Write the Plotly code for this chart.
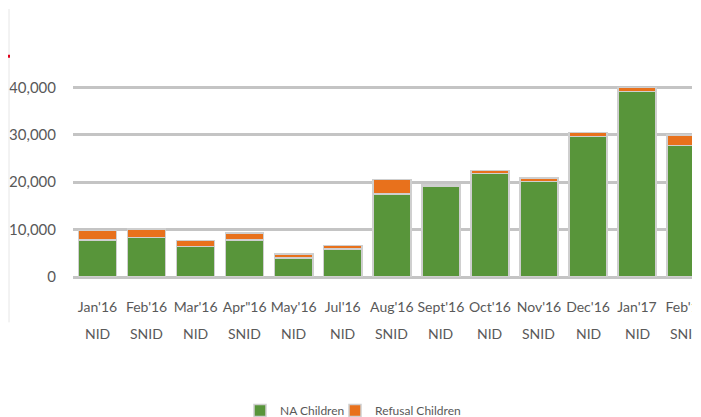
import plotly.graph_objects as go

months = ["Jan'16", "Feb'16", "Mar'16", "Apr\"16", "May'16", "Jul'16", "Aug'16",
          "Sept'16", "Oct'16", "Nov'16", "Dec'16", "Jan'17", "Feb'17"]
rounds = ["NID", "SNID", "NID", "SNID", "NID", "NID", "SNID",
          "NID", "NID", "SNID", "NID", "NID", "SNID"]
na_children = [7800, 8300, 6400, 7800, 4000, 5900, 17500,
               19100, 21800, 20200, 29700, 39200, 27800]
refusal_children = [2000, 1850, 1300, 1500, 900, 800, 3100,
                    300, 700, 700, 750, 800, 2200]

FONT = "Lato, Roboto, sans-serif"
GREY = "#595959"

# the figure shows up 8px in from the left edge of the page
OFF_X, OFF_Y = 8, 2
W, H = 684, 417
ML, MT, MB = 65, 70, 145
PH = H - MT - MB


def px_x(x):
    # page pixel -> paper x
    return (x - OFF_X - ML) / (W - ML)


def px_y(y):
    # page pixel -> paper y
    return (H - MB - (y - OFF_Y)) / PH


fig = go.Figure()
fig.add_trace(go.Bar(
    x=months, y=na_children, name="NA Children", legend="legend",
    marker=dict(color="#58953a", line=dict(color="#cfcfcf", width=1.5)),
))
fig.add_trace(go.Bar(
    x=months, y=refusal_children, name="Refusal Children", legend="legend2",
    marker=dict(color="#e8711c", line=dict(color="#cfcfcf", width=1.5)),
))

for m, r in zip(months, rounds):
    fig.add_annotation(
        x=m, y=0, xref="x", yref="paper", yanchor="middle", yshift=-56,
        text=r, showarrow=False, font=dict(family=FONT, size=14, color=GREY),
    )

# cropped neighbouring panel on the left edge
fig.add_shape(type="line", xref="paper", yref="paper",
              x0=px_x(9), x1=px_x(9), y0=px_y(2), y1=px_y(320),
              line=dict(color="#e6e6e6", width=1))
fig.add_shape(type="line", xref="paper", yref="paper",
              x0=px_x(8), x1=px_x(10), y0=px_y(50), y1=px_y(50),
              line=dict(color="#e0001a", width=3))

legend_style = dict(
    orientation="h", xanchor="left", y=px_y(410), yanchor="middle",
    font=dict(family=FONT, size=12, color=GREY), bgcolor="rgba(0,0,0,0)",
)

fig.update_layout(
    width=W, height=H,
    barmode="stack", bargap=0.224,
    margin=dict(l=ML, r=0, t=MT, b=MB),
    plot_bgcolor="white", paper_bgcolor="white",
    font=dict(family=FONT, color=GREY),
    xaxis=dict(
        range=[-0.5, 12.12], showgrid=False, zeroline=False, showline=False,
        tickangle=0, automargin=False,
        tickfont=dict(family=FONT, size=14, color=GREY),
        ticklabelstandoff=20,
    ),
    yaxis=dict(
        range=[0, 42000], tickvals=[0, 10000, 20000, 30000, 40000],
        tickformat=",", showgrid=True, gridcolor="#c4c4c4", gridwidth=2.5,
        zeroline=True, zerolinecolor="#c4c4c4", zerolinewidth=2.5,
        automargin=False,
        tickfont=dict(family=FONT, size=15, color=GREY),
        ticklabelstandoff=16,
    ),
    legend=dict(x=px_x(240), **legend_style),
    legend2=dict(x=px_x(335), **legend_style),
    showlegend=True,
)

fig.write_html("out.html")
